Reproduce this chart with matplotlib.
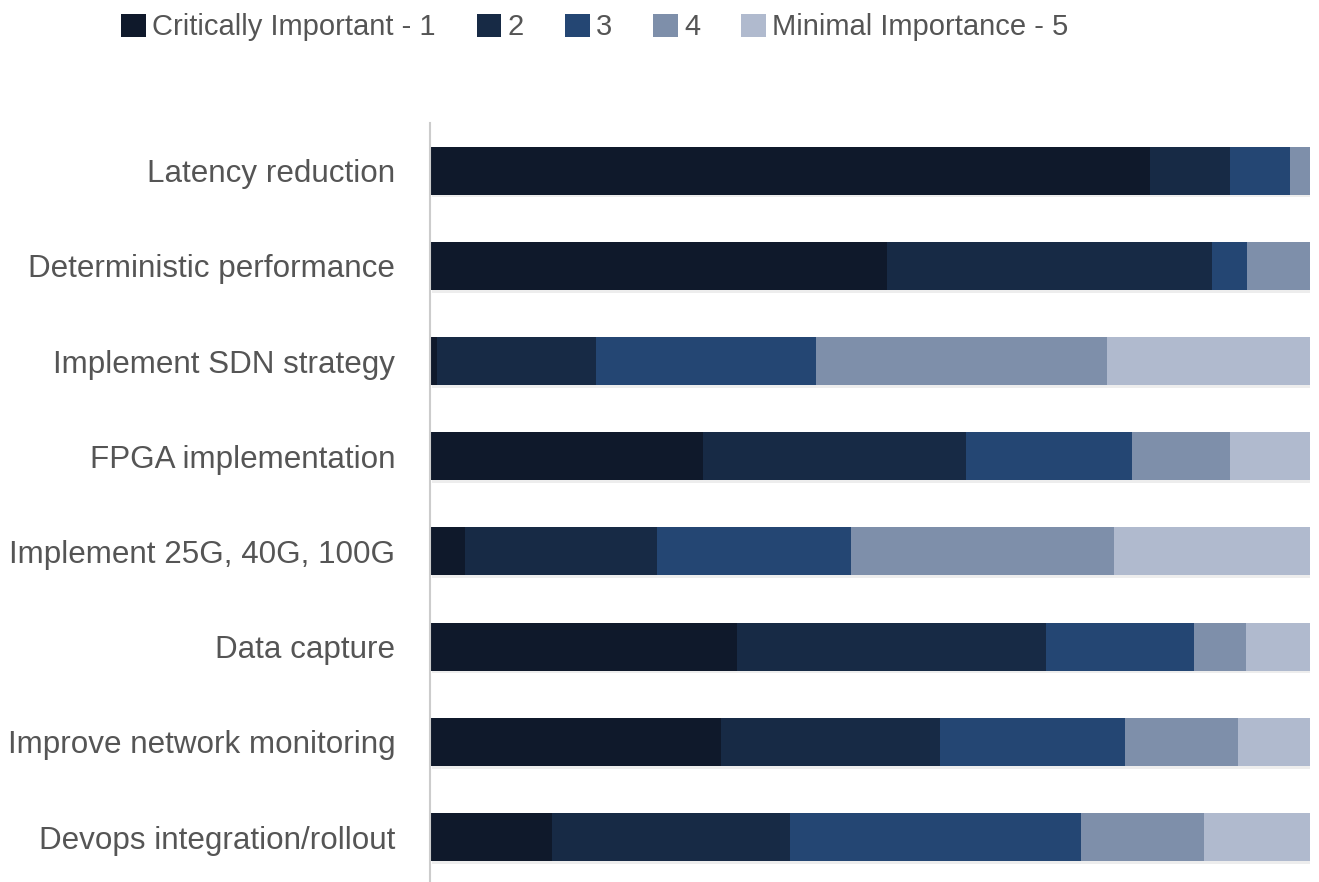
import matplotlib
matplotlib.use("Agg")
import matplotlib.pyplot as plt
import matplotlib.patheffects as pe
import numpy as np

plt.rcParams['font.family'] = ['Liberation Sans', 'DejaVu Sans']

# Data (percent of respondents per importance rating)
categories = ['Latency reduction', 'Deterministic performance', 'Implement SDN strategy',
              'FPGA implementation', 'Implement 25G, 40G, 100G', 'Data capture',
              'Improve network monitoring', 'Devops integration/rollout']
series_names = ['Critically Important - 1', '2', '3', '4', 'Minimal Importance - 5']
rating1 = [81.8, 51.9, 0.8, 31.0, 4.0, 34.9, 33.1, 13.9]
rating2 = [9.1, 37.0, 18.1, 29.9, 21.8, 35.1, 24.9, 27.0]
rating3 = [6.9, 4.0, 25.0, 18.9, 22.0, 16.8, 21.0, 33.1]
rating4 = [2.2, 7.1, 33.0, 11.1, 30.0, 6.0, 12.8, 14.0]
rating5 = [0.0, 0.0, 23.1, 9.1, 22.2, 7.2, 8.2, 12.0]

colors = ['#0f192b', '#172a45', '#244673', '#7e8faa', '#b0bace']
text_color = '#555555'

fig = plt.figure(figsize=(13.19, 8.82), dpi=100)
ax = fig.add_axes([0.326, -0.003, 0.667, 0.8635])

y = np.arange(len(categories))
left = np.zeros(len(categories))
# soft drop shadow under the bars
shadow = [pe.SimplePatchShadow(offset=(1.5, -2), alpha=0.07, shadow_rgbFace='black'), pe.Normal()]
for vals, name, col in zip([rating1, rating2, rating3, rating4, rating5], series_names, colors):
    bars = ax.barh(y, vals, left=left, height=0.505, color=col, label=name, linewidth=0)
    for b in bars:
        b.set_path_effects(shadow)
    left += np.array(vals)

ax.set_xlim(0, 100)
ax.set_ylim(7.5, -0.5)
ax.set_yticks(y)
ax.set_yticklabels(categories, fontsize=22.6, color=text_color)
ax.tick_params(axis='y', length=0, pad=25)
ax.set_xticks([])
for s in ['top', 'right', 'bottom']:
    ax.spines[s].set_visible(False)
ax.spines['left'].set_color('#cccccc')
ax.spines['left'].set_linewidth(1.5)

# legend across the top
handles, labels = ax.get_legend_handles_labels()
leg = fig.legend(handles, labels, loc='center', bbox_to_anchor=(0.451, 0.969), ncol=5,
                 frameon=False, fontsize=21, handlelength=0.85, handleheight=0.85,
                 handletextpad=0.22, columnspacing=1.4, labelcolor=text_color)
for h in leg.legend_handles:
    h.set_path_effects([])

fig.savefig('out.png', dpi=100, facecolor='white')
